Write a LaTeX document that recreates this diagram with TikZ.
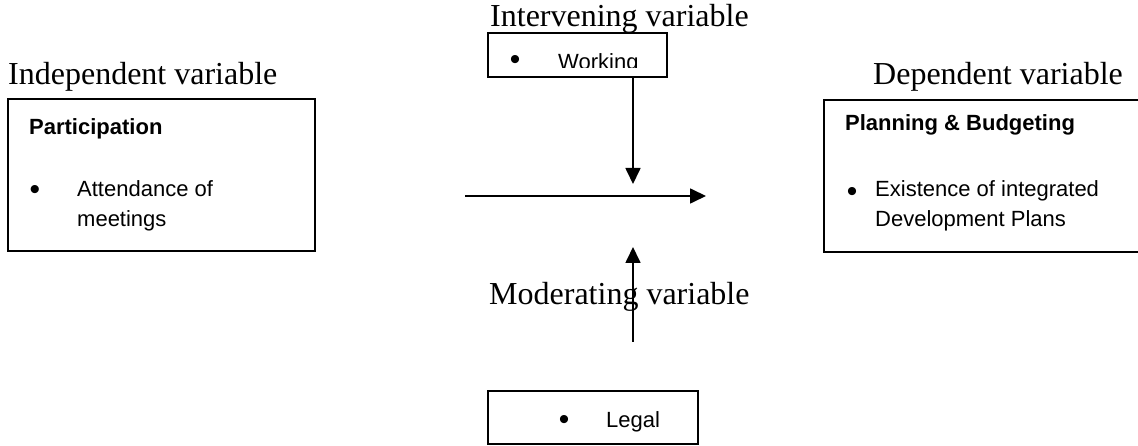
\documentclass[tikz,border=0pt]{standalone}
\usepackage{fontspec}
\setmainfont{Liberation Serif}
\newfontfamily\arialf{Liberation Sans}
\usetikzlibrary{arrows.meta}
\begin{document}
\begin{tikzpicture}[x=1pt,y=1pt,
  boxst/.style={draw=black,line width=1.7pt,inner sep=0pt},
  lbl/.style={anchor=base west,inner sep=0pt,font=\fontsize{32}{38}\selectfont},
  itm/.style={anchor=base west,inner sep=0pt,font=\arialf\fontsize{22}{26}\selectfont},
  hdr/.style={anchor=base west,inner sep=0pt,font=\arialf\bfseries\fontsize{22}{26}\selectfont},
  bul/.style={anchor=center,inner sep=0pt,font=\arialf\fontsize{30}{34}\selectfont},
  arr/.style={line width=1.7pt,-{Triangle[length=16pt,width=15pt]}}]
\useasboundingbox (0,0) rectangle (1138,-446);
% boxes
\node[boxst,minimum width=307pt,minimum height=152pt] (indep) at (161.5,-175) {};
\node[boxst,minimum width=179pt,minimum height=44pt] (work) at (577.5,-55) {};
\node[boxst,minimum width=210pt,minimum height=53pt] (legal) at (593,-417.5) {};
\node[boxst,minimum width=321pt,minimum height=152pt] (dep) at (984.5,-176) {};
% headings
\node[lbl] (tind) at (8,-85) {Independent variable};
\node[lbl] (tdep) at (873,-85) {Dependent variable};
\node[lbl] (tint) at (490,-27) {Intervening variable};
\node[lbl] (tmod) at (489,-305) {Moderating variable};
% left box content
\node[hdr] (part) at (29,-135) {Participation};
\node[bul] (b1) at (35,-192) {•};
\node[itm] (att1) at (77,-197) {Attendance of};
\node[itm] (att2) at (77,-227) {meetings};
% right box content
\node[hdr] (plan) at (845,-131) {Planning \& Budgeting};
\node[bul] (b2) at (852,-194) {•};
\node[itm] (ex1) at (875,-197) {Existence of integrated};
\node[itm] (ex2) at (875,-227) {Development Plans};
% working (clipped)
\begin{scope}
\clip (489,-34) rectangle (666,-68);
\node[bul] (b3) at (515,-63) {•};
\node[itm] (wk) at (558,-70) {Working};
\end{scope}
% legal
\node[bul] (b4) at (564,-422) {•};
\node[itm] (lg) at (606,-427) {Legal};
% arrows
\coordinate (d1) at (633,-184);
\coordinate (h0) at (465,-196);
\coordinate (h1) at (706,-196);
\coordinate (m0) at (633,-342);
\coordinate (m1) at (633,-247);
\draw[arr] (work.south -| d1) -- (d1);
\draw[arr] (h0) -- (h1);
\draw[arr] (m0) -- (m1);
\end{tikzpicture}
\end{document}
